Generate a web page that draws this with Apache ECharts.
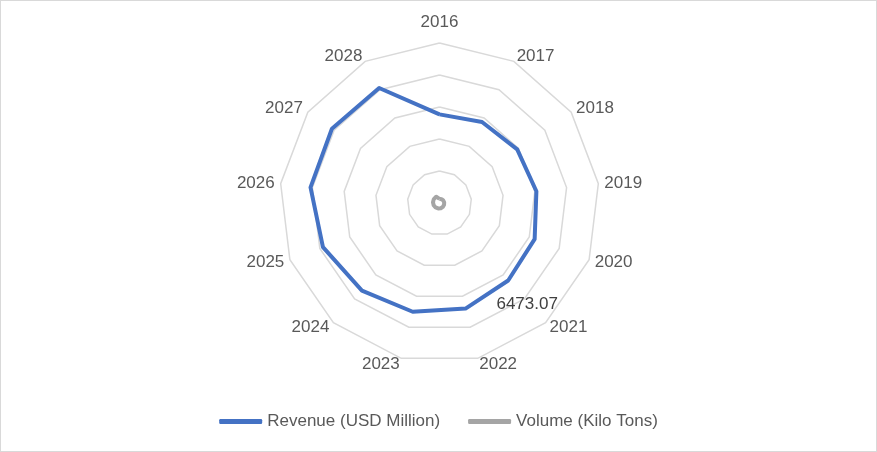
<!DOCTYPE html>
<html><head><meta charset="utf-8">
<script src="https://cdn.jsdelivr.net/npm/echarts@6/dist/echarts.min.js"></script>
<style>html,body{margin:0;padding:0;background:#fff}#c{width:877px;height:452px;box-sizing:border-box;border:1px solid #d9d9d9}</style>
</head><body><div id="c"></div>
<script>
const years = ['2016','2017','2018','2019','2020','2021','2022','2023','2024','2025','2026','2027','2028'];
const revenue = [5540, 5720, 5900, 6100, 6360, 6473.07, 6795, 7000, 7310, 7790, 8120, 8170, 8115];
const volume = [260, 270, 280, 295, 305, 320, 335, 350, 370, 390, 410, 430, 445];
const labelYear = '2021';
const labelText = '6473.07';
const axisMax = 10000;

// ECharts places indicators counter-clockwise; reorder to draw clockwise.
const order = [0].concat(years.map((_, i) => i).slice(1).reverse());
const ind = order.map(i => ({ name: years[i], max: axisMax, min: 0 }));
const rev = order.map(i => revenue[i]);
const vol = order.map(i => volume[i]);
const labelDim = order.indexOf(years.indexOf(labelYear));

const FONT = 'Liberation Sans';
const chart = echarts.init(document.getElementById('c'));
chart.setOption({
  animation: false,
  textStyle: { fontFamily: FONT },
  legend: {
    bottom: 16, left: 'center', itemGap: 28, itemWidth: 43, itemHeight: 5,
    icon: 'roundRect',
    textStyle: { color: '#595959', fontSize: 17, fontFamily: FONT },
    data: ['Revenue (USD Million)', 'Volume (Kilo Tons)']
  },
  radar: {
    center: [438.5, 202], radius: 160, startAngle: 90, splitNumber: 5,
    shape: 'polygon', indicator: ind,
    axisName: {
      color: '#595959', fontSize: 17, fontFamily: FONT,
      formatter: (name) => name === years[0] ? '{t|' + name + '}' : name,
      rich: { t: { color: '#595959', fontSize: 17, fontFamily: FONT, padding: [0, 0, 6, 0] } }
    },
    nameGap: 6,
    axisLine: { show: false },
    axisTick: { show: false },
    splitArea: { show: false },
    splitLine: { lineStyle: { color: '#d9d9d9', width: 1.5 } }
  },
  series: [{
    type: 'radar',
    symbol: 'circle', symbolSize: 0.1,
    data: [
      { name: 'Revenue (USD Million)', value: rev,
        lineStyle: { color: '#4472C4', width: 4 }, itemStyle: { color: '#4472C4' },
        label: { show: true, position: 'inside', offset: [19, 24], color: '#404040', fontSize: 17, fontFamily: FONT,
          formatter: p => p.dimensionIndex === labelDim ? labelText : '' } },
      { name: 'Volume (Kilo Tons)', value: vol,
        lineStyle: { color: '#A5A5A5', width: 4 }, itemStyle: { color: '#A5A5A5' } }
    ]
  }]
});
</script></body></html>
